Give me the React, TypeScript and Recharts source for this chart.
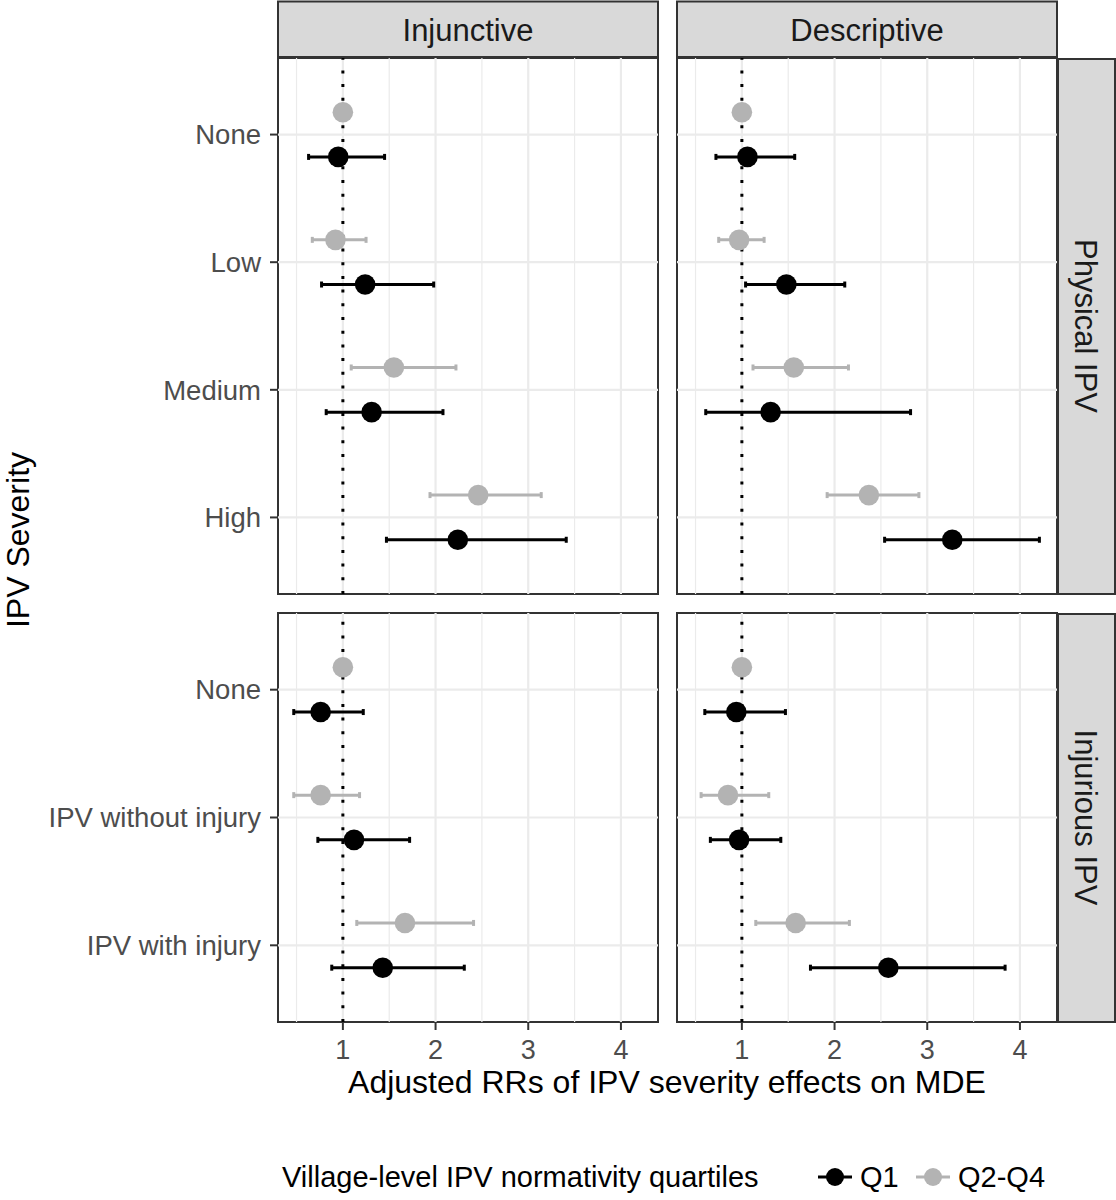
import React from 'react';
import {
  ScatterChart,
  Scatter,
  XAxis,
  YAxis,
  ErrorBar,
  ReferenceLine,
  ReferenceArea,
} from 'recharts';

// ---------- categories & ticks ----------
const columnFacets = ['Injunctive', 'Descriptive'];
const rowFacets = ['Physical IPV', 'Injurious IPV'];
const physicalLevels = ['None', 'Low', 'Medium', 'High'];
const injuriousLevels = ['None', 'IPV without injury', 'IPV with injury'];
const xTicks = [1, 2, 3, 4];
const xMinorTicks = [0.5, 1.5, 2.5, 3.5];
const seriesNames = ['Q1', 'Q2-Q4'];
const seriesColors = ['#000000', '#B3B3B3'];

// ---------- Injunctive x Physical IPV ----------
const injPhysQ1Est = [0.95, 1.24, 1.31, 2.24];
const injPhysQ1Lo = [0.63, 0.77, 0.82, 1.47];
const injPhysQ1Hi = [1.45, 1.98, 2.08, 3.41];
const injPhysQ24Est = [1.0, 0.92, 1.55, 2.46];
const injPhysQ24Lo = [1.0, 0.67, 1.09, 1.94];
const injPhysQ24Hi = [1.0, 1.25, 2.22, 3.14];

// ---------- Descriptive x Physical IPV ----------
const desPhysQ1Est = [1.06, 1.48, 1.31, 3.27];
const desPhysQ1Lo = [0.72, 1.04, 0.61, 2.54];
const desPhysQ1Hi = [1.57, 2.11, 2.82, 4.21];
const desPhysQ24Est = [1.0, 0.97, 1.56, 2.37];
const desPhysQ24Lo = [1.0, 0.75, 1.12, 1.92];
const desPhysQ24Hi = [1.0, 1.24, 2.15, 2.91];

// ---------- Injunctive x Injurious IPV ----------
const injInjQ1Est = [0.76, 1.12, 1.43];
const injInjQ1Lo = [0.47, 0.73, 0.88];
const injInjQ1Hi = [1.22, 1.72, 2.31];
const injInjQ24Est = [1.0, 0.76, 1.67];
const injInjQ24Lo = [1.0, 0.47, 1.15];
const injInjQ24Hi = [1.0, 1.18, 2.41];

// ---------- Descriptive x Injurious IPV ----------
const desInjQ1Est = [0.94, 0.97, 2.58];
const desInjQ1Lo = [0.6, 0.66, 1.74];
const desInjQ1Hi = [1.47, 1.42, 3.84];
const desInjQ24Est = [1.0, 0.85, 1.58];
const desInjQ24Lo = [1.0, 0.56, 1.15];
const desInjQ24Hi = [1.0, 1.29, 2.16];

const FONT = '"Liberation Sans", Arial, Helvetica, sans-serif';
const DODGE = 0.175;
const X_DOMAIN: [number, number] = [0.3, 4.4];
const YW = 250;
const XH = 60;
const M = 4;

type Row = { x: number; y: number; err: [number, number] };

function buildRows(est: number[], lo: number[], hi: number[], offset: number): Row[] {
  return est.map((e, i) => ({
    x: e,
    y: i + 1 + offset,
    err: [e - lo[i], hi[i] - e] as [number, number],
  }));
}

const dot = (color: string) => (props: any) => (
  <circle cx={props.cx} cy={props.cy} r={10.3} fill={color} />
);

type PanelProps = {
  levels: string[];
  q1: Row[];
  q24: Row[];
  showY: boolean;
  showX: boolean;
  plot: { x: number; y: number; w: number; h: number };
};

function Panel({ levels, q1, q24, showY, showX, plot }: PanelProps) {
  const n = levels.length;
  const yTicks = levels.map((_, i) => i + 1);
  const left = plot.x - (showY ? YW : 0) - M;
  const top = plot.y - M;
  const width = plot.w + (showY ? YW : 0) + 2 * M;
  const height = plot.h + (showX ? XH : 0) + 2 * M;
  return (
    <div style={{ position: 'absolute', left, top, width, height }}>
      <ScatterChart
        width={width}
        height={height}
        margin={{ top: M, right: M, bottom: M, left: M }}
      >
        <XAxis
          type="number"
          dataKey="x"
          domain={X_DOMAIN}
          ticks={xTicks}
          interval={0}
          allowDataOverflow
          hide={!showX}
          height={XH}
          axisLine={false}
          tickSize={8}
          tickMargin={10}
          tickLine={{ stroke: '#333333', strokeWidth: 2 }}
          tick={{ fontSize: 27, fill: '#4D4D4D', fontFamily: FONT }}
        />
        <YAxis
          type="number"
          dataKey="y"
          domain={[0.4, n + 0.6]}
          reversed
          ticks={yTicks}
          interval={0}
          allowDataOverflow
          hide={!showY}
          width={YW}
          axisLine={false}
          tickSize={8}
          tickMargin={9}
          tickLine={{ stroke: '#333333', strokeWidth: 2 }}
          tick={{ fontSize: 27.5, fill: '#4D4D4D', fontFamily: FONT }}
          tickFormatter={(v: number) => levels[v - 1] ?? ''}
        />
        {xMinorTicks.map((t) => (
          <ReferenceLine key={'mx' + t} x={t} stroke="#EBEBEB" strokeWidth={1.2} />
        ))}
        {xTicks.map((t) => (
          <ReferenceLine key={'Mx' + t} x={t} stroke="#EBEBEB" strokeWidth={2.2} />
        ))}
        {yTicks.map((t) => (
          <ReferenceLine key={'My' + t} y={t} stroke="#EBEBEB" strokeWidth={2.2} />
        ))}
        <ReferenceLine x={1} stroke="#000000" strokeWidth={3} strokeDasharray="3 10.7" />
        <Scatter data={q24} shape={dot(seriesColors[1])} isAnimationActive={false}>
          <ErrorBar
            dataKey="err"
            direction="x"
            width={3}
            stroke={seriesColors[1]}
            strokeWidth={3}
            isAnimationActive={false}
          />
        </Scatter>
        <Scatter data={q1} shape={dot(seriesColors[0])} isAnimationActive={false}>
          <ErrorBar
            dataKey="err"
            direction="x"
            width={3}
            stroke={seriesColors[0]}
            strokeWidth={3}
            isAnimationActive={false}
          />
        </Scatter>
        <ReferenceArea
          x1={X_DOMAIN[0]}
          x2={X_DOMAIN[1]}
          y1={0.4}
          y2={n + 0.6}
          fill="none"
          stroke="#333333"
          strokeWidth={2}
          ifOverflow="visible"
        />
      </ScatterChart>
    </div>
  );
}

const plots = {
  tl: { x: 278, y: 58, w: 380, h: 536 },
  tr: { x: 677, y: 58, w: 380, h: 536 },
  bl: { x: 278, y: 613, w: 380, h: 409 },
  br: { x: 677, y: 613, w: 380, h: 409 },
};

export default function App() {
  return (
    <div
      style={{
        position: 'absolute',
        left: 0,
        top: 0,
        width: 1116,
        height: 1200,
        background: '#FFFFFF',
        fontFamily: FONT,
        overflow: 'hidden',
      }}
    >
      <Panel
        levels={physicalLevels}
        q1={buildRows(injPhysQ1Est, injPhysQ1Lo, injPhysQ1Hi, DODGE)}
        q24={buildRows(injPhysQ24Est, injPhysQ24Lo, injPhysQ24Hi, -DODGE)}
        showY
        showX={false}
        plot={plots.tl}
      />
      <Panel
        levels={physicalLevels}
        q1={buildRows(desPhysQ1Est, desPhysQ1Lo, desPhysQ1Hi, DODGE)}
        q24={buildRows(desPhysQ24Est, desPhysQ24Lo, desPhysQ24Hi, -DODGE)}
        showY={false}
        showX={false}
        plot={plots.tr}
      />
      <Panel
        levels={injuriousLevels}
        q1={buildRows(injInjQ1Est, injInjQ1Lo, injInjQ1Hi, DODGE)}
        q24={buildRows(injInjQ24Est, injInjQ24Lo, injInjQ24Hi, -DODGE)}
        showY
        showX
        plot={plots.bl}
      />
      <Panel
        levels={injuriousLevels}
        q1={buildRows(desInjQ1Est, desInjQ1Lo, desInjQ1Hi, DODGE)}
        q24={buildRows(desInjQ24Est, desInjQ24Lo, desInjQ24Hi, -DODGE)}
        showY={false}
        showX
        plot={plots.br}
      />
      <svg
        width={1116}
        height={1200}
        style={{ position: 'absolute', left: 0, top: 0, pointerEvents: 'none' }}
        fontFamily={FONT}
      >
        {/* column strips */}
        {[plots.tl, plots.tr].map((p, i) => (
          <g key={'cs' + i}>
            <rect x={p.x} y={1.5} width={p.w} height={55.5} fill="#D9D9D9" stroke="#333333" strokeWidth={2} />
            <text x={p.x + p.w / 2} y={41} textAnchor="middle" fontSize={31} fill="#1A1A1A">
              {columnFacets[i]}
            </text>
          </g>
        ))}
        {/* row strips */}
        {[plots.tr, plots.br].map((p, i) => {
          const cx = 1086.5;
          const cy = p.y + p.h / 2;
          return (
            <g key={'rs' + i}>
              <rect x={1058} y={p.y + 1} width={57} height={p.h - 1} fill="#D9D9D9" stroke="#333333" strokeWidth={2} />
              <text
                x={cx}
                y={cy}
                dy="0.36em"
                textAnchor="middle"
                fontSize={31}
                fill="#1A1A1A"
                transform={`rotate(90 ${cx} ${cy})`}
              >
                {rowFacets[i]}
              </text>
            </g>
          );
        })}
        {/* axis titles */}
        <text x={667} y={1093} textAnchor="middle" fontSize={32} fill="#000000">
          Adjusted RRs of IPV severity effects on MDE
        </text>
        <text
          x={17}
          y={540}
          dy="0.36em"
          textAnchor="middle"
          fontSize={32}
          fill="#000000"
          transform="rotate(-90 17 540)"
        >
          IPV Severity
        </text>
        {/* legend */}
        <text x={282} y={1187} fontSize={29} fill="#000000">
          Village-level IPV normativity quartiles
        </text>
        {seriesNames.map((name, i) => {
          const kx = i === 0 ? 835 : 933;
          return (
            <g key={'lg' + i}>
              <line x1={kx - 17} x2={kx + 17} y1={1177} y2={1177} stroke={seriesColors[i]} strokeWidth={2.8} />
              <circle cx={kx} cy={1177} r={9} fill={seriesColors[i]} />
              <text x={kx + 25} y={1187} fontSize={29} fill="#000000">
                {name}
              </text>
            </g>
          );
        })}
      </svg>
    </div>
  );
}
